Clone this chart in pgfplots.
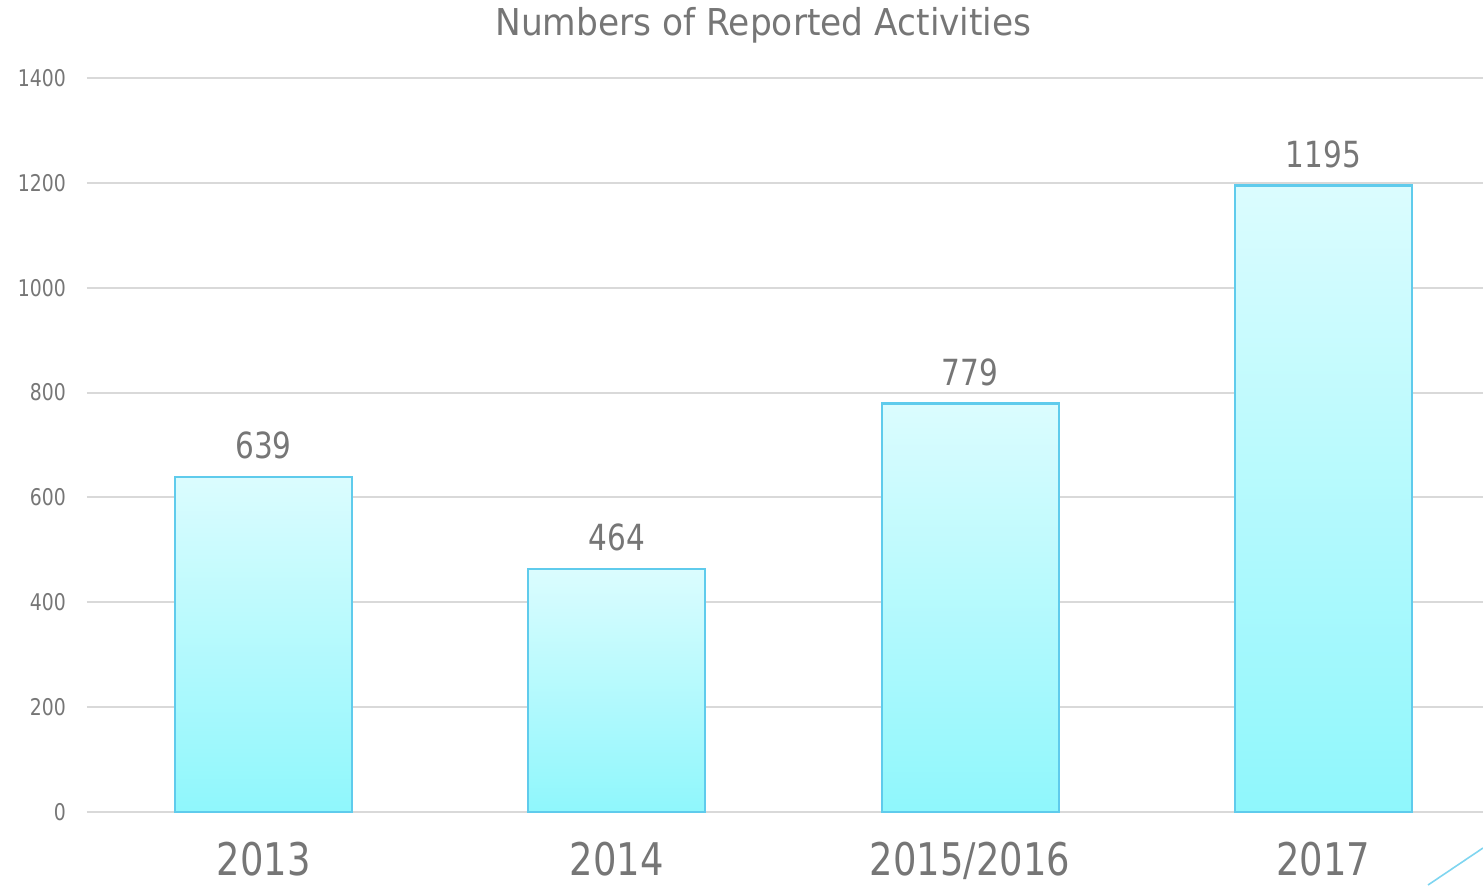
\documentclass[border=0pt]{standalone}
\usepackage{pgfplots}
\pgfplotsset{compat=1.18}
\usepackage{fontspec}
\setmainfont{DejaVu Sans}[FakeStretch=0.82]
\newfontfamily\titlefont{DejaVu Sans}[FakeStretch=0.93]
\definecolor{txt}{RGB}{118,118,118}
\definecolor{gridc}{RGB}{217,217,217}
\definecolor{bartop}{RGB}{219,252,254}
\definecolor{barbot}{RGB}{143,247,252}
\definecolor{bardraw}{RGB}{95,203,236}
\begin{document}
\begin{tikzpicture}
\useasboundingbox (0,0) rectangle (741.5pt,442.5pt);
\begin{axis}[
  at={(43.5pt,36.5pt)}, anchor=south west,
  scale only axis, width=698pt, height=367pt,
  xmin=-0.5, xmax=3.452, ymin=0, ymax=1400,
  ytick={0,200,...,1400},
  xtick={0,1,2,3},
  xticklabels={2013,2014,2015/2016,2017},
  axis line style={draw=none},
  major tick length=0pt,
  ymajorgrids, grid style={gridc, line width=1pt},
  /pgf/number format/assume math mode=true,
  /pgf/number format/1000 sep={},
  yticklabel style={font=\fontsize{11.5}{12}\selectfont, text=txt, xshift=-7pt},
  xticklabel style={font=\fontsize{22.5}{23}\selectfont, text=txt, yshift=-15pt, inner sep=0pt},
  clip=false,
  mybar/.style={ybar, bar width=88.5pt, bar shift=0pt, mark=none,
     draw=bardraw, line width=1.1pt, top color=bartop, bottom color=barbot,
     nodes near coords,
     every node near coord/.append style={font=\fontsize{18}{19}\selectfont, text=txt, yshift=5pt}},
]
\addplot[mybar] coordinates {(0,639)};
\addplot[mybar] coordinates {(1,464)};
\addplot[mybar] coordinates {(2,779)};
\addplot[mybar] coordinates {(3,1195)};
\end{axis}
\node[font=\titlefont\fontsize{18.5}{19}\selectfont, text=txt] at (381.75pt,430pt) {Numbers of Reported Activities};
\draw[bardraw!80, line width=0.8pt] (714pt,0pt) -- (741.5pt,18.5pt);
\end{tikzpicture}
\end{document}
